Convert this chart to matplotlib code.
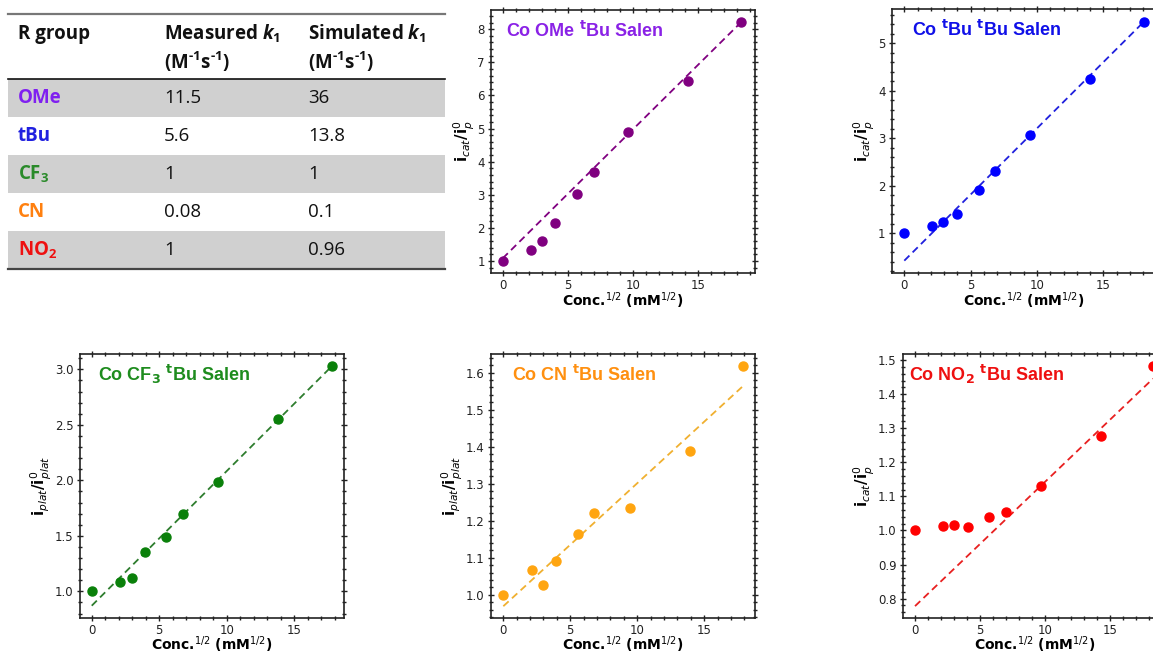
import matplotlib
matplotlib.use('Agg')
import matplotlib.pyplot as plt
from matplotlib.patches import Rectangle
from matplotlib.ticker import MultipleLocator, AutoMinorLocator

# Table contents
groups = ['OMe', 'tBu', 'CF$_3$', 'CN', 'NO$_2$']
measured_k1 = ['11.5', '5.6', '1', '0.08', '1']
simulated_k1 = ['36', '13.8', '1', '0.1', '0.96']
group_colors = ['#8020f0', '#2020e0', '#2a8a2a', '#ff8010', '#ee1010']

# Panel data: sqrt(conc) vs normalised current, plus the dashed linear fit
ome_x = [0, 2.15, 3.0, 4.05, 5.7, 7.0, 9.65, 14.25, 18.35]
ome_y = [1.0, 1.32, 1.60, 2.14, 3.01, 3.70, 4.91, 6.45, 8.22]
ome_fit = (0.389, 1.08)

tbu_x = [0, 2.11, 2.94, 3.94, 5.63, 6.86, 9.5, 14.02, 18.07]
tbu_y = [1.0, 1.16, 1.23, 1.40, 1.91, 2.32, 3.07, 4.26, 5.46]
tbu_fit = (0.279, 0.42)

cf3_x = [0, 2.10, 2.97, 3.95, 5.49, 6.80, 9.36, 13.84, 17.84]
cf3_y = [1.0, 1.087, 1.12, 1.354, 1.492, 1.70, 1.982, 2.556, 3.033]
cf3_fit = (0.1212, 0.871)

cn_x = [0, 2.12, 2.94, 3.94, 5.58, 6.80, 9.47, 13.95, 17.92]
cn_y = [1.0, 1.067, 1.025, 1.09, 1.163, 1.221, 1.235, 1.387, 1.618]
cn_fit = (0.0332, 0.969)

no2_x = [0, 2.19, 3.01, 4.06, 5.74, 7.05, 9.72, 14.36, 18.34]
no2_y = [1.0, 1.014, 1.016, 1.010, 1.040, 1.054, 1.131, 1.276, 1.483]
no2_fit = (0.0364, 0.778)

titles = ['Co OMe $^{\\mathbf{t}}$Bu Salen', 'Co $^{\\mathbf{t}}$Bu $^{\\mathbf{t}}$Bu Salen',
          'Co CF$_\\mathbf{3}$ $^{\\mathbf{t}}$Bu Salen', 'Co CN $^{\\mathbf{t}}$Bu Salen',
          'Co NO$_\\mathbf{2}$ $^{\\mathbf{t}}$Bu Salen']
icat_label = r'$\mathbf{i}_{cat}\mathbf{/i}_{p}^{0}$'
iplat_label = r'$\mathbf{i}_{plat}\mathbf{/i}_{plat}^{0}$'
xlabel = r'Conc.$^{1/2}$ (mM$^{1/2}$)'

plt.rcParams['mathtext.fontset'] = 'custom'
plt.rcParams['mathtext.rm'] = 'Open Sans:bold'
plt.rcParams['mathtext.it'] = 'Open Sans:italic:bold'
plt.rcParams['mathtext.bf'] = 'Open Sans:bold'

W, H = 1153, 654
fig = plt.figure(figsize=(W / 100, H / 100), dpi=100)

# ---- table, drawn in pixel coordinates ----
tab = fig.add_axes([0, 0, 1, 1])
tab.set_xlim(0, W)
tab.set_ylim(H, 0)
tab.axis('off')

TFS = 13.5
row_top = 79
row_h = 38
for i in range(len(groups)):
    y0 = row_top + i * row_h
    if i % 2 == 0:
        tab.add_patch(Rectangle((8, y0), 437, row_h, fc='#d0d0d0', ec='none'))
    yc = y0 + row_h / 2
    tab.text(18, yc, groups[i], color=group_colors[i], fontsize=TFS,
             family='Open Sans', weight='bold', va='center')
    tab.text(164, yc, measured_k1[i], color='#111111', fontsize=TFS,
             family='Open Sans', va='center')
    tab.text(308, yc, simulated_k1[i], color='#111111', fontsize=TFS,
             family='Open Sans', va='center')

tab.plot([8, 445], [14, 14], color='#777777', lw=1.6)
tab.plot([8, 445], [row_top, row_top], color='#111111', lw=1.2)
tab.plot([8, 445], [row_top + 5 * row_h, row_top + 5 * row_h], color='#444444', lw=1.6)

hdr = dict(fontsize=TFS, family='Open Sans', weight='bold', color='#111111', va='center')
tab.text(18, 34, 'R group', **hdr)
tab.text(164, 34, r'Measured $\mathit{k}_{\mathit{1}}$', **hdr)
tab.text(308, 34, r'Simulated $\mathit{k}_{\mathit{1}}$', **hdr)
tab.text(164, 62, r'(M$^{\text{-}1}$s$^{\text{-}1}$)', **hdr)
tab.text(308, 62, r'(M$^{\text{-}1}$s$^{\text{-}1}$)', **hdr)

# ---- scatter panels ----
# (x, y, fit, marker colour, line colour, title colour, ylabel, y major step,
#  axes box in pixels [left, top, right, bottom], xlim, ylim, title x)
panels = [
    (ome_x, ome_y, ome_fit, '#800080', '#800080', '#8a22e6', icat_label, 1,
     (491, 10, 755, 273), (-0.9, 19.4), (0.637, 8.58), 0.057),
    (tbu_x, tbu_y, tbu_fit, '#0000ff', '#2020dd', '#1010e8', icat_label, 1,
     (891.7, 9.3, 1156, 273), (-0.95, 18.97), (0.16, 5.72), 0.076),
    (cf3_x, cf3_y, cf3_fit, '#0a800a', '#2e7d2e', '#1e8c1e', iplat_label, 0.5,
     (80, 354, 344, 617.7), (-0.87, 18.7), (0.763, 3.138), 0.069),
    (cn_x, cn_y, cn_fit, '#ffa510', '#f0b030', '#ff9010', iplat_label, 0.1,
     (491, 354, 755, 617.7), (-0.92, 18.8), (0.938, 1.650), 0.078),
    (no2_x, no2_y, no2_fit, '#ff0000', '#e82020', '#ee1010', icat_label, 0.1,
     (902.7, 354, 1166.7, 617.7), (-0.95, 19.4), (0.744, 1.518), 0.024),
]

for (x, y, fit, mc, lc, tc, ylab, ystep, box, xl, yl, tx), title in zip(panels, titles):
    l, t, r, b = box
    ax = fig.add_axes([l / W, (H - b) / H, (r - l) / W, (b - t) / H])
    slope, icpt = fit
    ax.plot([x[0], x[-1]], [icpt + slope * x[0], icpt + slope * x[-1]],
            ls=(0, (4, 2.5)), color=lc, lw=1.3, zorder=2)
    ax.plot(x, y, 'o', color=mc, ms=6.5, zorder=3)
    ax.set_xlim(*xl)
    ax.set_ylim(*yl)
    ax.xaxis.set_major_locator(MultipleLocator(5))
    ax.yaxis.set_major_locator(MultipleLocator(ystep))
    ax.xaxis.set_minor_locator(AutoMinorLocator(5))
    ax.yaxis.set_minor_locator(AutoMinorLocator(5))
    ax.tick_params(which='both', direction='inout', top=True, right=True,
                   labelsize=8.5, colors='#222222', width=1)
    ax.tick_params(which='major', length=5, pad=2)
    ax.tick_params(which='minor', length=3)
    for sp in ax.spines.values():
        sp.set_linewidth(1.2)
        sp.set_color('#222222')
    ax.set_xlabel(xlabel, fontsize=10, weight='bold', labelpad=-1.5,
                  math_fontfamily='dejavusans')
    ax.set_ylabel(ylab, fontsize=11, labelpad=0.5, math_fontfamily='dejavusans')
    ax.text(tx, 0.898, title, transform=ax.transAxes, color=tc, fontsize=13,
            family='Liberation Sans', weight='bold', va='baseline',
            math_fontfamily='dejavusans')

fig.savefig('out.png', dpi=100)
